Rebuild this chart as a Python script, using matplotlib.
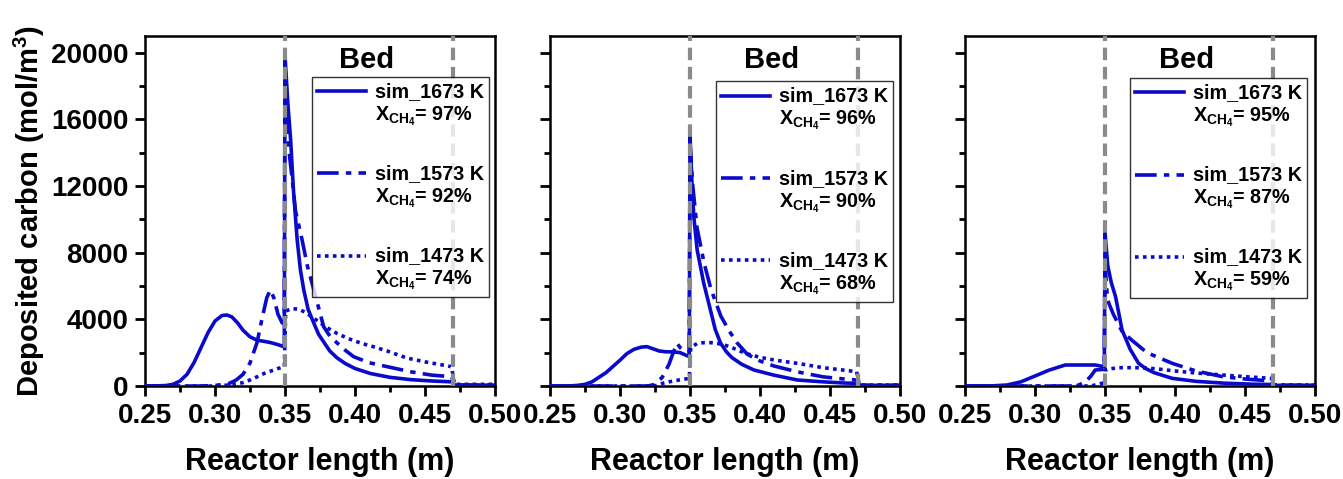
import matplotlib
matplotlib.use("Agg")
import numpy as np
import matplotlib.pyplot as plt
from matplotlib.legend_handler import HandlerLine2D

plt.rcParams['font.family'] = ['Liberation Sans', 'DejaVu Sans']
plt.rcParams['font.weight'] = 'bold'
plt.rcParams['mathtext.fontset'] = 'custom'
plt.rcParams['mathtext.bf'] = 'Liberation Sans:bold'
plt.rcParams['mathtext.rm'] = 'Liberation Sans:bold'
plt.rcParams['mathtext.default'] = 'bf'

# ---------------- data ----------------
temps = ["1673", "1573", "1473"]
conversions = [["97", "92", "74"], ["96", "90", "68"], ["95", "87", "59"]]
bed_start = 0.35
bed_end = 0.47
x_ticks = [0.25, 0.30, 0.35, 0.40, 0.45, 0.50]
y_ticks = [0, 4000, 8000, 12000, 16000, 20000]

# Panel 1
p1_x_1673 = [0.25, 0.26, 0.265, 0.27, 0.275, 0.28, 0.285, 0.29, 0.295, 0.30, 0.305, 0.3085, 0.312, 0.316, 0.32, 0.325,
             0.33, 0.335, 0.34, 0.345, 0.3495, 0.350, 0.352, 0.354, 0.356, 0.3587, 0.361, 0.3634, 0.3665, 0.3706,
             0.374, 0.378, 0.382, 0.387, 0.393, 0.40, 0.411, 0.425, 0.44, 0.455, 0.469, 0.471, 0.48, 0.49, 0.50]
p1_y_1673 = [0, 10, 30, 100, 300, 700, 1400, 2300, 3200, 3900, 4230, 4260, 4150, 3800, 3350, 2950,
             2750, 2680, 2600, 2480, 2350, 19800, 17000, 14800, 11800, 8770, 6970, 5770, 4600, 3770,
             3100, 2600, 2100, 1700, 1350, 1050, 750, 520, 380, 300, 250, 60, 50, 50, 50]
p1_x_1573 = [0.25, 0.29, 0.30, 0.31, 0.315, 0.32, 0.325, 0.33, 0.334, 0.337, 0.3395, 0.342, 0.345, 0.348, 0.3495,
             0.350, 0.3515, 0.353, 0.355, 0.3575, 0.3622, 0.366, 0.3706, 0.3776, 0.382, 0.387, 0.393, 0.399, 0.41,
             0.423, 0.44, 0.455, 0.469, 0.471, 0.50]
p1_y_1573 = [0, 0, 30, 150, 350, 700, 1380, 2600, 4200, 5300, 5760, 5300, 4300, 3780, 3900,
             19500, 16000, 14000, 12500, 10500, 8770, 7200, 5770, 3560, 3000, 2600, 2150, 1760, 1400,
             1160, 850, 650, 560, 60, 50]
p1_x_1473 = [0.25, 0.30, 0.31, 0.32, 0.325, 0.33, 0.335, 0.34, 0.345, 0.3495, 0.3505, 0.355, 0.36, 0.365, 0.37,
             0.375, 0.38, 0.387, 0.395, 0.405, 0.413, 0.423, 0.437, 0.45, 0.46, 0.469, 0.471, 0.48, 0.49, 0.50]
p1_y_1473 = [0, 0, 60, 200, 360, 550, 750, 900, 1050, 1160, 4500, 4650, 4600, 4400, 4100,
             3800, 3500, 3160, 2850, 2550, 2360, 2100, 1680, 1450, 1300, 1160, 100, 100, 100, 100]

# Panel 2
p2_x_1673 = [0.25, 0.265, 0.27, 0.275, 0.28, 0.29, 0.30, 0.305, 0.31, 0.315, 0.3193, 0.323, 0.328, 0.333, 0.338,
             0.343, 0.3495, 0.350, 0.3515, 0.3527, 0.3551, 0.3598, 0.3646, 0.368, 0.3718, 0.376, 0.38, 0.387,
             0.3957, 0.41, 0.4267, 0.445, 0.46, 0.4697, 0.471, 0.50]
p2_y_1673 = [0, 10, 40, 100, 250, 800, 1550, 1950, 2200, 2330, 2360, 2250, 2100, 2050, 2050,
             2000, 1760, 15000, 12000, 10170, 8170, 6170, 4560, 3400, 2580, 2050, 1700, 1300,
             960, 650, 360, 250, 180, 160, 40, 40]
p2_x_1573 = [0.25, 0.32, 0.324, 0.33, 0.335, 0.338, 0.3407, 0.343, 0.346, 0.3495, 0.350, 0.352, 0.355, 0.36,
             0.365, 0.372, 0.378, 0.3837, 0.391, 0.40, 0.41, 0.4267, 0.445, 0.46, 0.469, 0.471, 0.50]
p2_y_1573 = [0, 0, 80, 500, 1300, 2000, 2560, 2300, 2100, 2050, 14500, 12000, 9500, 7400,
             5800, 4200, 3300, 2580, 1900, 1500, 1200, 850, 550, 420, 360, 40, 40]
p2_x_1473 = [0.25, 0.32, 0.326, 0.33, 0.335, 0.34, 0.345, 0.3495, 0.3505, 0.355, 0.36, 0.365, 0.37, 0.375, 0.38,
             0.39, 0.40, 0.41, 0.4267, 0.445, 0.46, 0.469, 0.471, 0.50]
p2_y_1473 = [0, 0, 30, 150, 250, 330, 400, 460, 2300, 2550, 2600, 2600, 2550, 2450, 2300,
             1950, 1720, 1560, 1360, 1100, 950, 860, 60, 60]

# Panel 3
p3_x_1673 = [0.25, 0.27, 0.28, 0.29, 0.30, 0.31, 0.3216, 0.33, 0.343, 0.3495, 0.350, 0.352, 0.3545, 0.3575, 0.3622,
             0.368, 0.374, 0.379, 0.385, 0.398, 0.415, 0.435, 0.455, 0.469, 0.471, 0.50]
p3_y_1673 = [0, 10, 60, 250, 600, 950, 1260, 1260, 1260, 1150, 9170, 7200, 6200, 5370, 3360,
             2200, 1360, 1050, 800, 460, 280, 170, 110, 90, 40, 40]
p3_x_1573 = [0.25, 0.325, 0.331, 0.336, 0.34, 0.343, 0.3495, 0.350, 0.3515, 0.3527, 0.356, 0.362, 0.369, 0.38,
             0.398, 0.415, 0.434, 0.45, 0.469, 0.471, 0.50]
p3_y_1573 = [0, 0, 50, 250, 600, 960, 1000, 7400, 5500, 4970, 4300, 3300, 2760, 2000,
             1360, 900, 560, 420, 300, 40, 40]
p3_x_1473 = [0.25, 0.34, 0.345, 0.3495, 0.3505, 0.36, 0.37, 0.38, 0.39, 0.40, 0.415, 0.434, 0.45, 0.469, 0.471,
             0.50]
p3_y_1473 = [0, 0, 100, 200, 1000, 1100, 1100, 1080, 1000, 900, 780, 660, 560, 460, 60, 60]

panels = [
    [(p1_x_1673, p1_y_1673), (p1_x_1573, p1_y_1573), (p1_x_1473, p1_y_1473)],
    [(p2_x_1673, p2_y_1673), (p2_x_1573, p2_y_1573), (p2_x_1473, p2_y_1473)],
    [(p3_x_1673, p3_y_1673), (p3_x_1573, p3_y_1573), (p3_x_1473, p3_y_1473)],
]

# ---------------- style ----------------
blue = '#0a0acd'
styles = ['-', (0, (6, 2, 1.5, 2)), (0, (1, 1.2))]
lefts = [145 / 1343, 550 / 1343, 965 / 1343]
W = 1343
H = 479
ax_w = 350 / W
ax_b = 1 - 386 / H
ax_h = 350 / H
legend_anchor = [(0.983, 0.883), (0.980, 0.870), (0.977, 0.880)]


class TopLine(HandlerLine2D):
    """Place the legend sample level with the first text line."""
    def create_artists(self, legend, orig_handle, xdescent, ydescent, width, height, fontsize, trans):
        arts = super().create_artists(legend, orig_handle, xdescent, ydescent, width, height, fontsize, trans)
        for a in arts:
            a.set_ydata(np.asarray(a.get_ydata(), dtype=float) + 0.72 * fontsize)
        return arts


fig = plt.figure(figsize=(13.43, 4.79), dpi=100)

for i, data in enumerate(panels):
    ax = fig.add_axes([lefts[i], ax_b, ax_w, ax_h])
    for j, (xs, ys) in enumerate(data):
        label = "sim_%s K\n$X_{CH_4}$= %s%%" % (temps[j], conversions[i][j])
        ax.plot(xs, ys, color=blue, lw=2.6, linestyle=styles[j], label=label, zorder=3)
    for xv in (bed_start, bed_end):
        ax.axvline(xv, color='#8a8a8a', lw=3, linestyle=(0, (3, 1.6)), zorder=4)
    ax.set_xlim(0.25, 0.50)
    ax.set_ylim(0, 21000)
    ax.set_xticks(x_ticks)
    ax.set_xticklabels(["%.2f" % v for v in x_ticks])
    ax.set_xticks([0.275, 0.325, 0.375, 0.425, 0.475], minor=True)
    ax.set_yticks(y_ticks)
    ax.set_yticks([2000, 6000, 10000, 14000, 18000], minor=True)
    ax.tick_params(which='major', direction='out', length=7, width=2, labelsize=20, pad=5)
    ax.tick_params(which='minor', direction='out', length=4, width=2)
    for sp in ax.spines.values():
        sp.set_linewidth(1.8)
    if i == 0:
        ax.set_ylabel("Deposited carbon (mol/m$^3$)", fontsize=21, fontweight='bold', labelpad=3)
    else:
        ax.set_yticklabels([])
    ax.set_xlabel("Reactor length (m)", fontsize=22, fontweight='bold', labelpad=13)
    ax.text(0.632, 0.932, "Bed", transform=ax.transAxes, fontsize=21, fontweight='bold',
            ha='center', va='center')
    leg = ax.legend(loc='upper right', bbox_to_anchor=legend_anchor[i], frameon=True, fancybox=False,
                    edgecolor='black', fontsize=14.2, handlelength=2.5, labelspacing=1.85,
                    borderpad=0.25, handletextpad=0.45, borderaxespad=0,
                    handler_map={plt.Line2D: TopLine()})
    leg.get_frame().set_linewidth(1.0)
    for t in leg.get_texts():
        t.set_multialignment('left')
        t.set_fontweight('bold')

fig.savefig("out.png", dpi=100)
